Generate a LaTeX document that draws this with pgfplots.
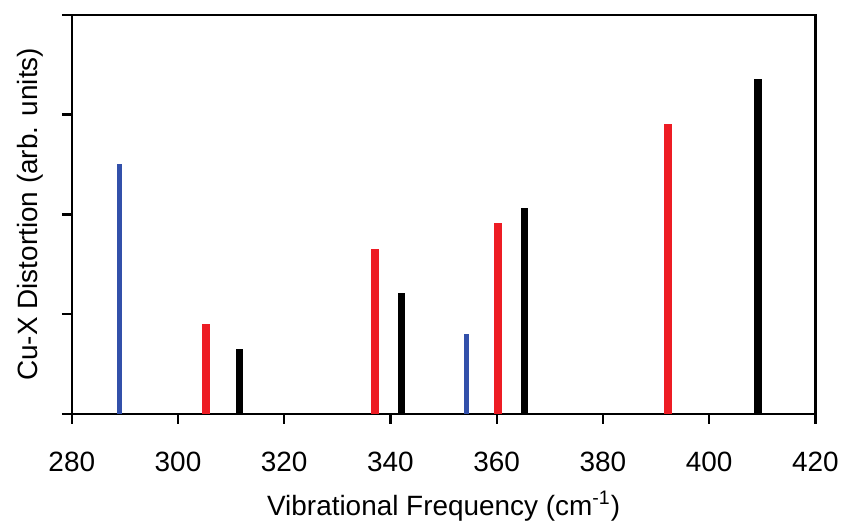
\documentclass[border=0pt]{standalone}
\usepackage{pgfplots}
\pgfplotsset{compat=1.18}
\usepackage{fontspec}
\setmainfont{Liberation Sans}
\definecolor{cblue}{RGB}{50,80,170}
\definecolor{cred}{RGB}{237,28,36}
\begin{document}
\fontsize{14}{16}\selectfont
\begin{tikzpicture}
\begin{axis}[
  name=ax,
  scale only axis,
  width=373pt, height=200pt,
  xmin=280, xmax=420, ymin=0, ymax=4,
  xtick={280,300,...,420},
  ytick={0,1,2,3,4},
  yticklabels={},
  axis line style={line width=1.2pt},
  major tick style={line width=1.2pt, black},
  major tick length=5pt,
  tick align=outside,
  xtick pos=bottom, ytick pos=left,
  /pgf/number format/assume math mode=true,
  /pgf/number format/1000 sep={},
  xticklabel style={font=\fontsize{14}{16}\selectfont, anchor=base, yshift=-24pt},
  xlabel={Vibrational Frequency (cm\textsuperscript{-1})},
  ylabel={Cu-X Distortion (arb. units)},
  label style={font=\fontsize{14}{16}\selectfont},
  xlabel style={at={([yshift=-51pt]axis description cs:0.5,0)}, anchor=base},
  ylabel style={at={([xshift=-17pt]axis description cs:0,0.5)}, anchor=base, rotate=0},
  clip=false,
]
\addplot[ycomb, no markers, cblue, line width=2.4pt] coordinates {
  (289,2.50) (354.3,0.80)
};
\addplot[ycomb, no markers, cred, line width=4pt] coordinates {
  (305.3,0.90) (337,1.65) (360.3,1.91) (392.2,2.91)
};
\addplot[ycomb, no markers, black, line width=3.6pt] coordinates {
  (311.5,0.65) (342,1.21) (365.3,2.06) (409.2,3.36)
};
\end{axis}
\path ([xshift=15pt,yshift=7.5pt]ax.north east);
\path ([xshift=-36pt,yshift=-55pt]ax.south west);
\end{tikzpicture}
\end{document}
